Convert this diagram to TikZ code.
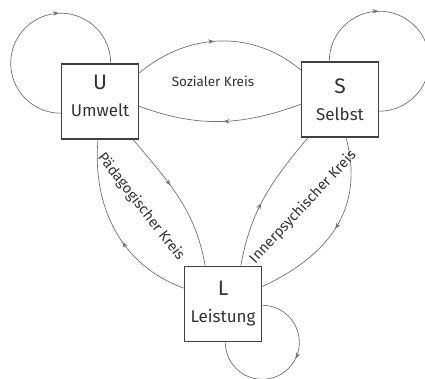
\documentclass[tikz,border=0pt]{standalone}
\usepackage{fontspec}
\setmainfont{Fira Sans}
\usetikzlibrary{arrows.meta,decorations.markings}

\begin{document}
\begin{tikzpicture}[x=1pt,y=1pt,
  box/.style={draw=black!75, line width=1.6pt, minimum width=77pt, minimum height=75pt,
    inner sep=0pt, align=center, text=black!80, font=\fontsize{17}{27}\selectfont},
  big/.style={font=\fontsize{21}{27}\selectfont},
  link/.style={draw=black!55, line width=0.7pt},
  mid arrow/.style={postaction={decorate,decoration={markings,
    mark=at position #1 with {\arrow{Stealth[length=6pt,width=4.5pt]}}}}},
  lbl/.style={text=black!80, font=\fontsize{14.5}{16}\selectfont}]
  \useasboundingbox (0,0) rectangle (425,-378);

  % Boxes
  \node[box, text depth=11pt] (U) at (100,-101.5) {{\fontsize{21}{27}\selectfont U}\\Umwelt};
  \node[box] (S) at (340,-99.5) {{\fontsize{21}{27}\selectfont S}\\Selbst};
  \node[box] (L) at (223,-304) {{\fontsize{21}{27}\selectfont L}\\Leistung};

  % Loops
  \draw[link, mid arrow=0.66] ([yshift=-50pt]U.north west) arc[start angle=-90, end angle=-360, radius=50];
  \draw[link, mid arrow=0.33] ([xshift=-50pt]S.north east) arc[start angle=180, end angle=-90, radius=50];
  \draw[link, mid arrow=0.43] ([yshift=37pt]L.south east) arc[start angle=90, end angle=-180, radius=37];

  % Sozialer Kreis
  \draw[link, mid arrow=0.47] (U.36) to[out=40, in=140] (S.143);
  \draw[link, mid arrow=0.48] (S.187) to[out=200, in=-20] (U.-7);
  \node[lbl, font=\fontsize{13.5}{16}\selectfont] (soz) at (213,-81) {Sozialer Kreis};

  % Paedagogischer Kreis
  \draw[link, mid arrow=0.42] (L.158) to[out=160, in=-95] (U.-93);
  \draw[link, mid arrow=0.4] (U.-49) to[out=-50, in=100] (L.115);
  \node[lbl, rotate=-52] (paed) at (141,-207) {Pädagogischer Kreis};

  % Innerpsychischer Kreis
  \draw[link, mid arrow=0.45] (L.65) to[out=80, in=-130] (S.230);
  \draw[link, mid arrow=0.5] (S.-81) to[out=-75, in=25, looseness=1.1] (L.24);
  \node[lbl, rotate=47] (inner) at (303,-207) {Innerpsychischer Kreis};
\end{tikzpicture}
\end{document}
